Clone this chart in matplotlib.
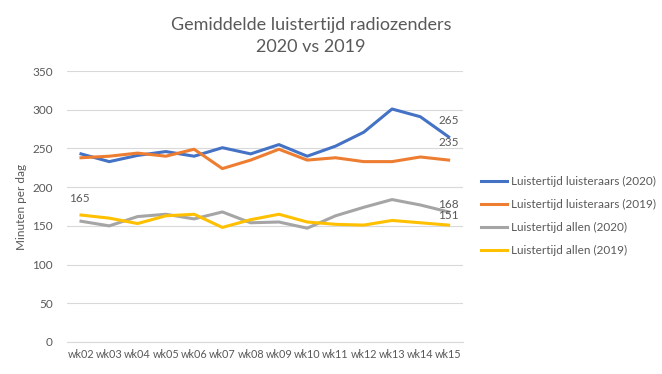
import matplotlib
matplotlib.use("Agg")
import matplotlib.pyplot as plt

weeks = ["wk02", "wk03", "wk04", "wk05", "wk06", "wk07", "wk08",
         "wk09", "wk10", "wk11", "wk12", "wk13", "wk14", "wk15"]
luisteraars_2020 = [243, 233, 241, 246, 240, 251, 243, 255, 240, 253, 271, 301, 291, 265]
luisteraars_2019 = [238, 240, 244, 240, 249, 224, 235, 249, 235, 238, 233, 233, 239, 235]
allen_2020 = [156, 150, 162, 165, 159, 168, 154, 155, 147, 163, 174, 184, 177, 168]
allen_2019 = [164, 160, 153, 163, 165, 148, 158, 165, 155, 152, 151, 157, 154, 151]

series = [
    ("Luistertijd luisteraars (2020)", luisteraars_2020, "#4472C4"),
    ("Luistertijd luisteraars (2019)", luisteraars_2019, "#ED7D31"),
    ("Luistertijd allen (2020)", allen_2020, "#A5A5A5"),
    ("Luistertijd allen (2019)", allen_2019, "#FFC000"),
]

plt.rcParams['font.family'] = ['Lato', 'DejaVu Sans']
txt = "#595959"

fig = plt.figure(figsize=(6.62, 3.74), dpi=100)
ax = fig.add_axes([0.101, 0.0856, 0.598, 0.7244])

x = list(range(len(weeks)))
for name, vals, col in series:
    ax.plot(x, vals, color=col, linewidth=2.2, label=name, solid_joinstyle='round')

# data labels
ax.annotate("165", (0, allen_2019[0]), xytext=(-2, 17), textcoords='offset pixels',
            ha='center', va='center', fontsize=8.5, color=txt)
last = len(weeks) - 1
for vals, dy in [(luisteraars_2020, 16), (luisteraars_2019, 18), (allen_2020, 7), (allen_2019, 10)]:
    ax.annotate(str(vals[-1]), (last, vals[-1]), xytext=(0, dy), textcoords='offset pixels',
                ha='center', va='center', fontsize=8.5, color=txt)

ax.set_xlim(-0.5, last + 0.5)
ax.set_ylim(0, 350)
ax.set_yticks(range(0, 351, 50))
ax.set_xticks(x)
ax.set_xticklabels(weeks)
ax.grid(axis='y', color='#D9D9D9', linewidth=0.8)
ax.set_axisbelow(True)
for s in ['top', 'right', 'left']:
    ax.spines[s].set_visible(False)
ax.spines['bottom'].set_color('#D9D9D9')
ax.tick_params(axis='both', length=0, labelsize=8.5, labelcolor=txt)
ax.tick_params(axis='x', labelsize=7.8, pad=5)
ax.tick_params(axis='y', pad=10)
ax.set_ylabel("Minuten per dag", fontsize=8.5, color=txt, labelpad=4)

fig.suptitle("Gemiddelde luistertijd radiozenders\n2020 vs 2019", x=0.47, y=0.955,
             fontsize=13, color=txt, linespacing=1.45)

ax.legend(loc='center left', bbox_to_anchor=(1.02, 0.465), frameon=False,
          fontsize=8.5, labelcolor=txt, handlelength=2.2, handletextpad=0.3,
          labelspacing=1.0)

fig.savefig("out.png", dpi=100)
